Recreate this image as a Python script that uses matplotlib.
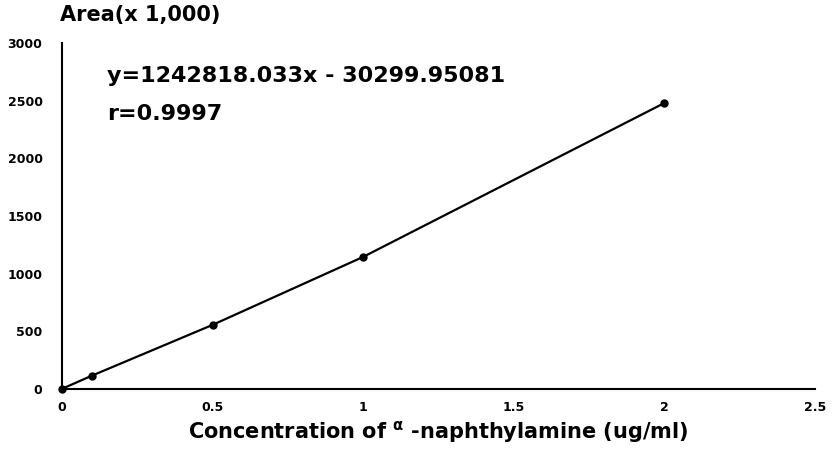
import matplotlib.pyplot as plt

# calibration data for alpha-naphthylamine
conc = [0, 0.1, 0.5, 1, 2]
area = [0, 115, 555, 1145, 2480]
x_ticks = [0, 0.5, 1, 1.5, 2, 2.5]
x_tick_labels = ["0", "0.5", "1", "1.5", "2", "2.5"]
y_ticks = [0, 500, 1000, 1500, 2000, 2500, 3000]

plt.rcParams["font.family"] = ["DejaVu Sans"]
plt.rcParams["font.weight"] = "bold"
plt.rcParams["mathtext.default"] = "regular"

fig = plt.figure(figsize=(8.32, 4.49), dpi=100)
ax = fig.add_axes([0.0745, 0.134, 0.905, 0.77])

ax.plot(conc, area, color="black", lw=1.6, marker="o", ms=5, clip_on=False)

ax.set_xlim(0, 2.5)
ax.set_ylim(0, 3000)
ax.set_xticks(x_ticks)
ax.set_xticklabels(x_tick_labels)
ax.set_yticks(y_ticks)
ax.tick_params(length=0, labelsize=9)
ax.tick_params(axis="x", pad=9)
ax.tick_params(axis="y", pad=14)

for side in ["top", "right"]:
    ax.spines[side].set_visible(False)
for side in ["left", "bottom"]:
    ax.spines[side].set_linewidth(1.5)

ax.set_xlabel("Concentration of $^{α}$ -naphthylamine (ug/ml)",
              fontsize=15, fontweight="bold", labelpad=3)
fig.text(0.072, 0.966, "Area(x 1,000)", fontsize=15, va="center", ha="left")

ax.text(0.15, 2716, "y=1242818.033x - 30299.95081", fontsize=16, va="center")
ax.text(0.15, 2388, "r=0.9997", fontsize=16, va="center")

fig.savefig("out.png", dpi=100)
